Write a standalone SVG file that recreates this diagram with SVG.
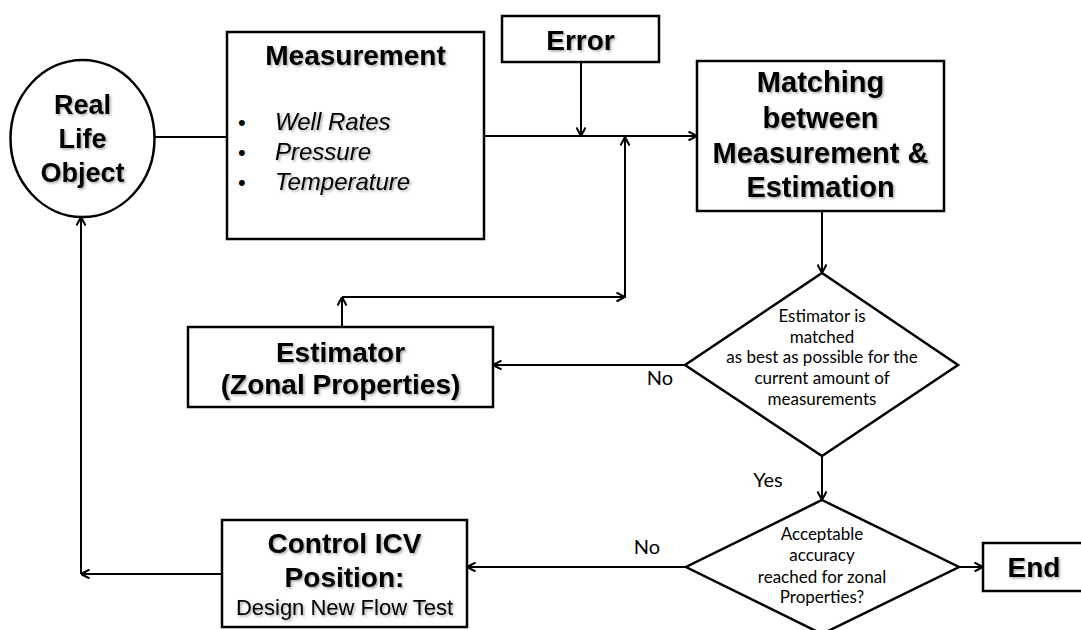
<svg xmlns="http://www.w3.org/2000/svg" width="1081" height="630" viewBox="0 0 1081 630">
<style>
.box{fill:#fff;stroke:#000;stroke-width:2.5}
.ln{stroke:#000;stroke-width:2;fill:none}
.b{font-family:"Liberation Sans",Arial,sans-serif;font-weight:bold;text-anchor:middle;fill:#000;filter:url(#sh)}
.i{font-family:"Liberation Sans",Arial,sans-serif;font-style:italic;font-size:24px;fill:#000;filter:url(#sh)}
.bu{font-family:"Liberation Sans",Arial,sans-serif;font-size:22px;fill:#000}
.c{font-family:Lato,"Liberation Sans",sans-serif;font-size:17px;text-anchor:middle;fill:#000}
.lbl{font-family:Lato,"Liberation Sans",sans-serif;font-size:20px;text-anchor:middle;fill:#000}
</style>
<defs>
<filter id="sh" x="-10%" y="-20%" width="130%" height="150%">
<feDropShadow dx="1.5" dy="1.5" stdDeviation="1" flood-color="#000" flood-opacity="0.35"/>
</filter>
<marker id="ah" viewBox="0 0 10 10" refX="9.5" refY="5" markerWidth="10" markerHeight="10" markerUnits="userSpaceOnUse" orient="auto">
<path d="M1,0.5 L9.5,5 L1,9.5" fill="none" stroke="#000" stroke-width="2"/>
</marker>
</defs>
<rect width="1081" height="630" fill="#fff"/>

<g id="connectors">
<line class="ln" x1="154" y1="137" x2="227" y2="137"/>
<line class="ln" x1="484" y1="136" x2="697" y2="136" marker-end="url(#ah)"/>
<line class="ln" x1="581" y1="62" x2="581" y2="136" marker-end="url(#ah)"/>
<line class="ln" x1="342" y1="327" x2="342" y2="297" marker-end="url(#ah)"/>
<line class="ln" x1="342" y1="297" x2="625" y2="297" marker-end="url(#ah)"/>
<line class="ln" x1="625" y1="297" x2="625" y2="137" marker-end="url(#ah)"/>
<line class="ln" x1="822" y1="211" x2="822" y2="273" marker-end="url(#ah)"/>
<line class="ln" x1="685" y1="365" x2="493" y2="365" marker-end="url(#ah)"/>
<line class="ln" x1="822" y1="456" x2="822" y2="500" marker-end="url(#ah)"/>
<line class="ln" x1="686" y1="567" x2="467" y2="567" marker-end="url(#ah)"/>
<line class="ln" x1="959" y1="567" x2="983" y2="567" marker-end="url(#ah)"/>
<line class="ln" x1="222" y1="574" x2="81" y2="574" marker-end="url(#ah)"/>
<line class="ln" x1="81" y1="574" x2="81" y2="217" marker-end="url(#ah)"/>
<text class="lbl" x="660" y="385">No</text>
<text class="lbl" x="768" y="487">Yes</text>
<text class="lbl" x="647" y="554">No</text>
</g>

<g id="real-life-object">
<ellipse class="box" cx="82.5" cy="138.5" rx="72" ry="78.5"/>
<text class="b" font-size="27" x="82.5" y="114">Real</text>
<text class="b" font-size="27" x="82.5" y="148">Life</text>
<text class="b" font-size="27" x="82.5" y="182">Object</text>
</g>

<g id="measurement">
<rect class="box" x="227" y="32" width="257" height="207"/>
<text class="b" font-size="28" x="355.5" y="65">Measurement</text>
<text class="bu" x="238" y="130">•</text>
<text class="bu" x="238" y="160">•</text>
<text class="bu" x="238" y="190">•</text>
<text class="i" x="275" y="130">Well Rates</text>
<text class="i" x="275" y="160">Pressure</text>
<text class="i" x="275" y="190">Temperature</text>
</g>

<g id="error">
<rect class="box" x="502" y="16" width="157" height="46"/>
<text class="b" font-size="28" x="580.5" y="50">Error</text>
</g>

<g id="matching">
<rect class="box" x="697" y="61" width="247" height="150"/>
<text class="b" font-size="29" x="820.5" y="92">Matching</text>
<text class="b" font-size="29" x="820.5" y="128">between</text>
<text class="b" font-size="29" x="820.5" y="163">Measurement &amp;</text>
<text class="b" font-size="29" x="820.5" y="197">Estimation</text>
</g>

<g id="estimator">
<rect class="box" x="188" y="327" width="305" height="80"/>
<text class="b" font-size="28" x="340.5" y="362">Estimator</text>
<text class="b" font-size="28" x="340.5" y="394">(Zonal Properties)</text>
</g>

<g id="decision-matched">
<polygon class="box" points="822,273 958,365 822,456 685,365"/>
<text class="c" x="822" y="322">Estimator is</text>
<text class="c" x="822" y="343">matched</text>
<text class="c" x="822" y="363">as best as possible for the</text>
<text class="c" x="822" y="384">current amount of</text>
<text class="c" x="822" y="405">measurements</text>
</g>

<g id="decision-accuracy">
<polygon class="box" points="822,500 959,567 822,634 686,567"/>
<text class="c" x="822" y="540">Acceptable</text>
<text class="c" x="822" y="561">accuracy</text>
<text class="c" x="822" y="583">reached for zonal</text>
<text class="c" x="822" y="603">Properties?</text>
</g>

<g id="control-icv">
<rect class="box" x="222" y="520" width="245" height="107"/>
<text class="b" font-size="28" x="344.5" y="553">Control ICV</text>
<text class="b" font-size="28" x="344.5" y="587">Position:</text>
<text class="b" font-size="22" font-weight="normal" style="font-weight:normal" x="344.5" y="615">Design New Flow Test</text>
</g>

<g id="end">
<rect class="box" x="983" y="543" width="106" height="48"/>
<text class="b" font-size="28" x="1034" y="577">End</text>
</g>
</svg>
